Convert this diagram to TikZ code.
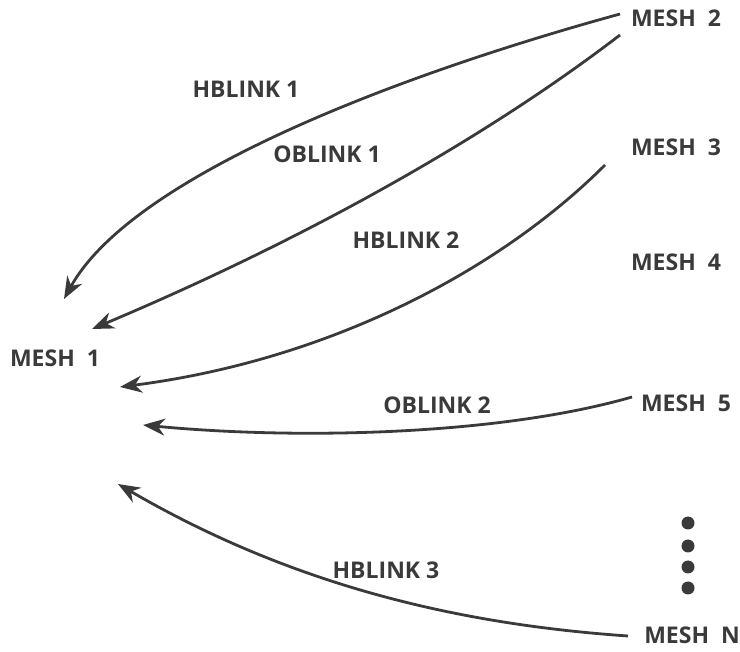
\documentclass[tikz,border=0pt]{standalone}
\usepackage{fontspec}
\setmainfont{Open Sans}
\usetikzlibrary{arrows.meta}
\definecolor{ink}{HTML}{3A3A3A}
\begin{document}
\begin{tikzpicture}[x=1pt,y=-1pt,
  lbl/.style={font=\fontsize{23}{26}\selectfont\bfseries, text=ink, inner sep=0pt},
  link/.style={draw=ink, line width=2.8pt, -{Stealth[length=22pt,width=17pt,inset=7pt]}},
  dot/.style={circle, fill=ink, minimum size=13pt, inner sep=0pt}]
\useasboundingbox (0,0) rectangle (740,652);
\node[lbl] (m1) at (55,358) {MESH\ \ 1};
\node[lbl] (m2) at (676,18) {MESH\ \ 2};
\node[lbl] (m3) at (676,147) {MESH\ \ 3};
\node[lbl] (m4) at (676,262) {MESH\ \ 4};
\node[lbl] (m5) at (686,403) {MESH\ \ 5};
\node[lbl] (mn) at (692,635) {MESH\ \ N};
\node[lbl] (h1) at (246,89) {HBLINK 1};
\node[lbl] (o1) at (327,154) {OBLINK 1};
\node[lbl] (h2) at (406,240) {HBLINK 2};
\node[lbl] (o2) at (437,405) {OBLINK 2};
\node[lbl] (h3) at (386,570) {HBLINK 3};
\node[dot] (d1) at (688,523) {};
\node[dot] (d2) at (688,546) {};
\node[dot] (d3) at (688,567) {};
\node[dot] (d4) at (688,588) {};
\coordinate (s1) at (620,14);
\coordinate (e1) at (64,299);
\coordinate (s2) at (620,35);
\coordinate (e2) at (92,329);
\coordinate (s3) at (605,165);
\coordinate (e3) at (120,387);
\coordinate (s4) at (632,397);
\coordinate (e4) at (143,425);
\coordinate (s5) at (628,636);
\coordinate (e5) at (118,484);
\draw[link] (s1) .. controls (380,80) and (130,180) .. (e1);
\draw[link] (s2) .. controls (470,150) and (280,250) .. (e2);
\draw[link] (s3) .. controls (500,270) and (330,360) .. (e3);
\draw[link] (s4) .. controls (500,435) and (300,440) .. (e4);
\draw[link] (s5) .. controls (470,625) and (300,590) .. (e5);
\end{tikzpicture}
\end{document}
